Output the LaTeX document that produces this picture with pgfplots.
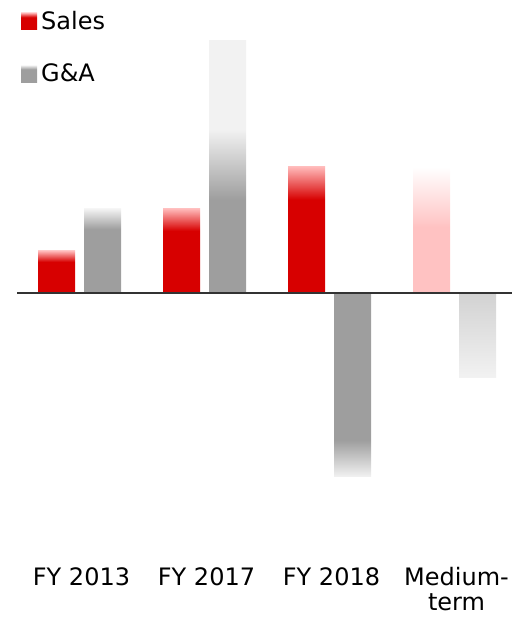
\documentclass[border=0pt]{standalone}
\usepackage{pgfplots}
\pgfplotsset{compat=1.18}
\usepackage{fontspec}
\setmainfont{DejaVu Sans}
\definecolor{absred}{HTML}{D70000}
\definecolor{pinktop}{HTML}{FFB8B8}
\definecolor{ggray}{HTML}{9E9E9E}
\definecolor{glight}{HTML}{F2F2F2}
\definecolor{medpink}{HTML}{FFC2C2}
\definecolor{medgray}{HTML}{D2D2D2}
% vertical shadings: 25bp = bottom of bar, 75bp = top of bar
\pgfdeclareverticalshading{salesPos}{100bp}{color(0bp)=(absred); color(62bp)=(absred); color(75bp)=(pinktop); color(100bp)=(pinktop)}
\pgfdeclareverticalshading{gaPos}{100bp}{color(0bp)=(ggray); color(63bp)=(ggray); color(75bp)=(glight); color(100bp)=(glight)}
\pgfdeclareverticalshading{gaTall}{100bp}{color(0bp)=(ggray); color(43.5bp)=(ggray); color(57.5bp)=(glight); color(100bp)=(glight)}
\pgfdeclareverticalshading{gaNeg}{100bp}{color(0bp)=(glight); color(25bp)=(glight); color(35bp)=(ggray); color(100bp)=(ggray)}
\pgfdeclareverticalshading{medSales}{100bp}{color(0bp)=(medpink); color(51bp)=(medpink); color(75bp)=(white); color(100bp)=(white)}
\pgfdeclareverticalshading{medGA}{100bp}{color(0bp)=(glight); color(25bp)=(glight); color(75bp)=(medgray); color(100bp)=(medgray)}
\begin{document}
\begin{tikzpicture}
\useasboundingbox (0,0) rectangle (512bp,622bp);
\begin{axis}[
  at={(17bp,55bp)}, anchor=south west,
  scale only axis, width=495bp, height=537bp,
  xmin=-0.5, xmax=3.46, ymin=-6.524, ymax=6.262,
  axis line style={draw=none},
  ytick=\empty,
  xtick={0,1,2,3},
  xticklabels={FY 2013, FY 2017, FY 2018, {Medium-\\term}},
  major tick length=0pt,
  xticklabel style={anchor=north, inner sep=0pt, xshift=2bp, align=center, font=\fontsize{24bp}{25bp}\selectfont},
  clip=false,
  legend cell align=left,
  legend image code/.code={\path[#1] (0bp,-8.5bp) rectangle (16bp,8.5bp);},
  legend style={at={(axis description cs:0.008,1.035)}, anchor=north west, draw=none, fill=none,
    inner sep=0pt, row sep=33bp, column sep=4bp, font=\fontsize{24bp}{27bp}\selectfont,
    nodes={inner sep=0pt}},
]
% Sales
\addplot[ybar, bar width=37bp, bar shift=-23bp, draw=none, shade, shading=salesPos, forget plot] coordinates {(0,1.0)};
\addplot[ybar, bar width=37bp, bar shift=-23bp, draw=none, shade, shading=salesPos, forget plot] coordinates {(1,2.0)};
\addplot[ybar, bar width=37bp, bar shift=-23bp, draw=none, shade, shading=salesPos, forget plot] coordinates {(2,3.0)};
\addplot[ybar, bar width=37bp, bar shift=-23bp, draw=none, shade, shading=medSales, forget plot] coordinates {(3,3.0)};
% G&A
\addplot[ybar, bar width=37bp, bar shift=23bp, draw=none, shade, shading=gaPos, forget plot] coordinates {(0,2.0)};
\addplot[ybar, bar width=37bp, bar shift=23bp, draw=none, shade, shading=gaTall, forget plot] coordinates {(1,6.0)};
\addplot[ybar, bar width=37bp, bar shift=23bp, draw=none, shade, shading=gaNeg, forget plot] coordinates {(2,-4.38)};
\addplot[ybar, bar width=37bp, bar shift=23bp, draw=none, shade, shading=medGA, forget plot] coordinates {(3,-2.02)};
\draw[black!80, line width=2.2bp] (axis cs:-0.5,0) -- (axis cs:3.46,0);
\addlegendimage{draw=none, shade, shading=salesPos}
\addlegendentry{Sales}
\addlegendimage{draw=none, shade, shading=gaPos}
\addlegendentry{G\&A}
\end{axis}
\end{tikzpicture}
\end{document}
